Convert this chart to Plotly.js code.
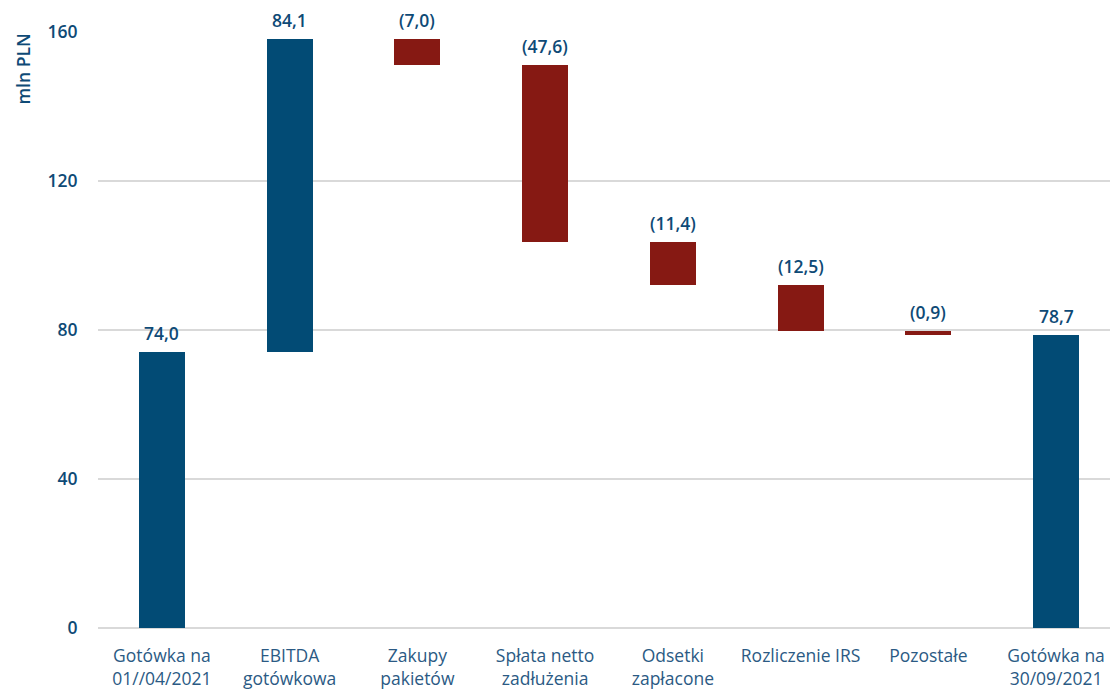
<!DOCTYPE html>
<html><head><meta charset="utf-8">
<script src="https://cdn.plot.ly/plotly-3.0.1.min.js"></script>
<style>html,body{margin:0;padding:0;background:#fff}#chart{width:1110px;height:692px}</style>
</head><body><div id="chart"></div>
<script>
const categories = ["Gotówka na<br>01//04/2021","EBITDA<br>gotówkowa","Zakupy<br>pakietów","Spłata netto<br>zadłużenia","Odsetki<br>zapłacone","Rozliczenie IRS","Pozostałe","Gotówka na<br>30/09/2021"];
const values = [74.0, 84.1, -7.0, -47.6, -11.4, -12.5, -0.9, 78.7];
const measures = ["absolute","relative","relative","relative","relative","relative","relative","total"];
const valueLabels = ["74,0","84,1","(7,0)","(47,6)","(11,4)","(12,5)","(0,9)","78,7"];
const yTicks = [0, 40, 80, 120, 160];

const BLUE = "#024B75", RED = "#861913", TXT = "#0E4A76", CAT = "#2B5A84";
const bases = [], heights = [], colors = [], tops = [];
let running = 0;
values.forEach((v, i) => {
  let lo, hi;
  if (measures[i] === "absolute") { lo = 0; hi = v; running = v; }
  else if (measures[i] === "total") { lo = 0; hi = running; }
  else { const s = running; running += v; lo = Math.min(s, running); hi = Math.max(s, running); }
  bases.push(lo); heights.push(hi - lo); tops.push(hi);
  colors.push(measures[i] === "relative" && v < 0 ? RED : BLUE);
});
const xIdx = categories.map((c, i) => i);

const trace = {
  type: "bar", x: xIdx, y: heights, base: bases,
  marker: {color: colors, line: {width: 0}}, width: 0.36,
  hoverinfo: "skip"
};
const annotations = xIdx.map((x, i) => ({
  x: x, y: tops[i], xref: "x", yref: "y", text: valueLabels[i],
  showarrow: false, yanchor: "bottom", yshift: 5,
  font: {family: "Open Sans", size: 17.5, color: TXT, weight: 600}
}));
annotations.push({
  xref: "paper", yref: "paper", x: -0.075, y: 1.0, xanchor: "center", yanchor: "top",
  text: "mln PLN", textangle: -90, showarrow: false,
  font: {family: "Open Sans", size: 17.5, color: TXT, weight: 600}
});

const layout = {
  width: 1110, height: 692,
  margin: {l: 98, r: 0, t: 32, b: 64, pad: 0},
  paper_bgcolor: "#fff", plot_bgcolor: "#fff",
  showlegend: false,
  bargap: 0,
  xaxis: {
    type: "linear", range: [-0.5, 7.422], tickmode: "array", tickvals: xIdx, ticktext: categories,
    showgrid: false, zeroline: false, showline: false,
    ticks: "outside", ticklen: 12, tickcolor: "rgba(0,0,0,0)",
    tickfont: {family: "Open Sans", size: 17.5, color: CAT}
  },
  yaxis: {
    range: [0, 160], tickmode: "array", tickvals: yTicks, ticktext: yTicks.map(String),
    showgrid: true, gridcolor: "#D9D9D9", gridwidth: 1.5, zeroline: true, zerolinecolor: "#D9D9D9", zerolinewidth: 1.5,
    ticks: "outside", ticklen: 16, tickcolor: "rgba(0,0,0,0)",
    tickfont: {family: "Open Sans", size: 17.5, color: TXT, weight: 600}
  },
  annotations: annotations
};
Plotly.newPlot("chart", [trace], layout, {displayModeBar: false, staticPlot: true});
</script></body></html>
